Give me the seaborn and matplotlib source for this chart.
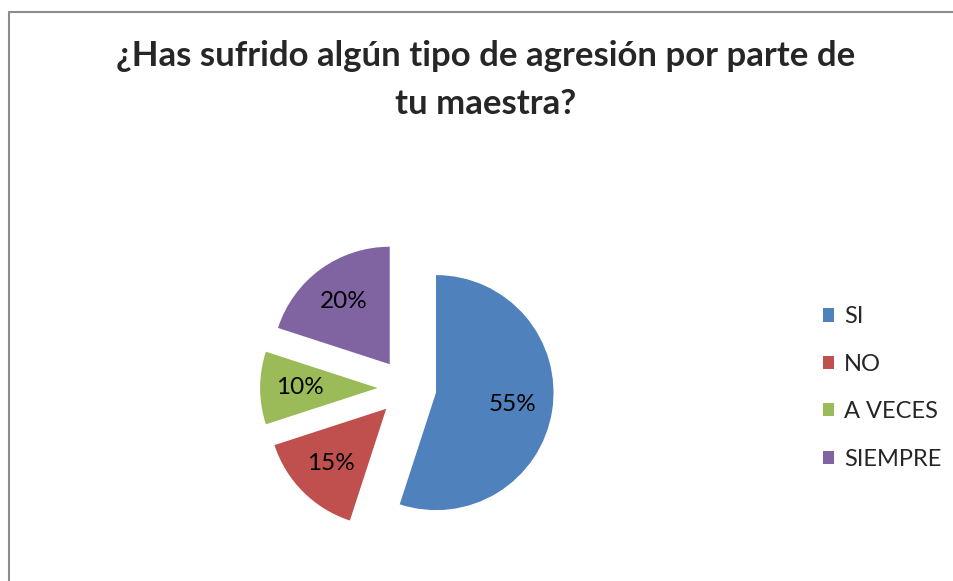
"""Pie chart: ¿Has sufrido algún tipo de agresión por parte de tu maestra?"""

import matplotlib

matplotlib.use("Agg")
import matplotlib.pyplot as plt
from matplotlib.lines import Line2D
from matplotlib.patches import Patch
import seaborn as sns

categories = ["SI", "NO", "A VECES", "SIEMPRE"]
percentages = [55, 15, 10, 20]
colours = ["#4F81BD", "#C0504D", "#9BBB59", "#8064A2"]
title = "¿Has sufrido algún tipo de agresión por parte de\ntu maestra?"

sns.set_theme(style="white")
plt.rcParams["font.family"] = ["Lato", "DejaVu Sans"]

W, H = 954, 581
fig = plt.figure(figsize=(W / 100, H / 100), dpi=100)
fig.patch.set_facecolor("white")

# pie axes: 4 data units wide, centred on the pie centre (407, 388 px)
size = 470
cx, cy = 407, 388
ax = fig.add_axes([(cx - size / 2) / W, (H - cy - size / 2) / H, size / W, size / H])
palette = sns.color_palette(colours)
wedges, _, autotexts = ax.pie(
	percentages,
	colors=palette,
	startangle=90,
	counterclock=False,
	explode=[0.25] * len(percentages),
	autopct="%d%%",
	pctdistance=0.66,
	textprops={"fontsize": 17.5, "color": "black"},
	wedgeprops={"linewidth": 0},
)
ax.set_xlim(-2, 2)
ax.set_ylim(-2, 2)
ax.set_aspect("equal")
ax.axis("off")

fig.text(
	486 / W,
	1 - 80 / H,
	title,
	ha="center",
	va="center",
	fontsize=25,
	fontweight="bold",
	linespacing=1.62,
)

handles = [Patch(facecolor=c, edgecolor="none") for c in palette]
fig.legend(
	handles,
	categories,
	loc="center left",
	bbox_to_anchor=(823 / W, 1 - 388 / H),
	frameon=False,
	fontsize=17,
	handlelength=0.48,
	handleheight=0.48,
	handletextpad=0.4,
	labelspacing=1.12,
	borderpad=0,
	borderaxespad=0,
)

# chart border (only top and left edges are visible in the crop)
border = "#8c8c8c"
fig.add_artist(Line2D([9 / W, 9 / W], [0, 1 - 12 / H], color=border, linewidth=1.5))
fig.add_artist(Line2D([9 / W, 1], [1 - 12 / H, 1 - 12 / H], color=border, linewidth=1.5))

fig.savefig("out.png", dpi=100)
plt.close(fig)
